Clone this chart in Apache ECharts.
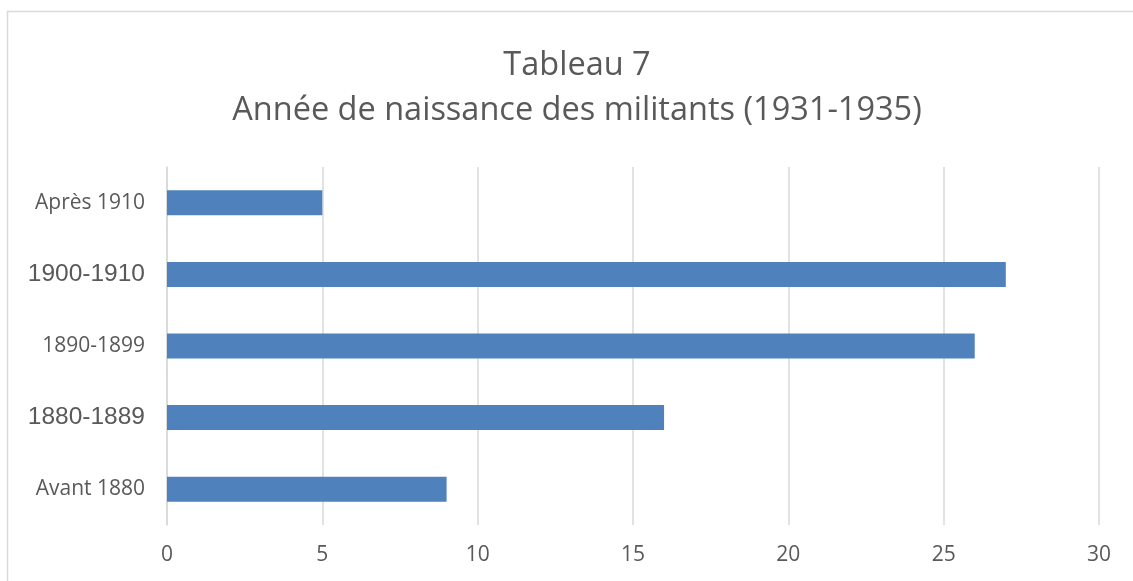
<!DOCTYPE html>
<html><head><meta charset="utf-8">
<script src="https://cdn.jsdelivr.net/npm/echarts@6/dist/echarts.min.js"></script>
<style>html,body{margin:0;padding:0;background:#fff}#c{width:1133px;height:581px}</style>
</head><body><div id="c"></div>
<script>
const categories = ['Avant 1880', '1880-1889', '1890-1899', '1900-1910', 'Après 1910'];
const values = [9, 16, 26, 27, 5];
const largeLabels = ['1880-1889', '1900-1910'];
const titleLines = ['Tableau 7', 'Année de naissance des militants (1931-1935)'];

const chart = echarts.init(document.getElementById('c'));
chart.setOption({
  animation: false,
  graphic: [{type: 'rect', shape: {x: 7.5, y: 11.5, width: 1140, height: 600}, style: {fill: 'none', stroke: '#d9d9d9', lineWidth: 1.5}, silent: true}],
  title: {
    text: titleLines.join('\n'),
    left: 572, top: 38, textAlign: 'center',
    textStyle: {fontFamily: 'Open Sans', fontSize: 32.5, fontWeight: 'normal', color: '#595959', lineHeight: 45}
  },
  grid: {left: 167, right: 34, top: 167, bottom: 56, containLabel: false},
  xAxis: {
    type: 'value', min: 0, max: 30, interval: 5,
    axisLine: {show: false}, axisTick: {show: false},
    splitLine: {lineStyle: {color: '#d9d9d9', width: 1.5}},
    axisLabel: {fontFamily: 'Open Sans', fontSize: 21, color: '#595959', margin: 20}
  },
  yAxis: {
    type: 'category', data: categories,
    axisLine: {show: true, lineStyle: {color: '#d9d9d9', width: 1.5}},
    axisTick: {show: false},
    axisLabel: {
      margin: 22,
      formatter: v => largeLabels.includes(v) ? '{b|' + v + '}' : '{a|' + v + '}',
      rich: {
        a: {fontFamily: 'Open Sans', fontSize: 21, color: '#595959'},
        b: {fontFamily: 'Liberation Sans', fontSize: 24.5, color: '#595959'}
      }
    }
  },
  series: [{
    type: 'bar', data: values, barWidth: 25,
    itemStyle: {color: '#4f81bd'}
  }]
});
</script></body></html>
